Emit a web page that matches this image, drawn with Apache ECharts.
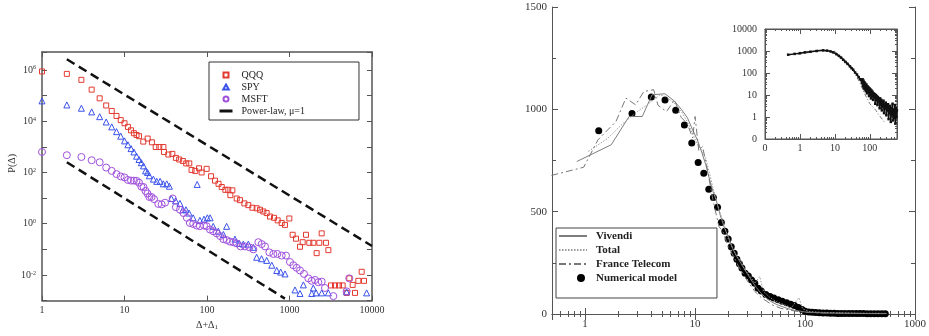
<!DOCTYPE html>
<html>
<head>
<meta charset="utf-8">
<script src="https://cdn.jsdelivr.net/npm/echarts@6/dist/echarts.min.js"></script>
<style>
  html, body { margin: 0; padding: 0; background: #fff; }
  #chart { width: 929px; height: 336px; }
</style>
</head>
<body>
<div id="chart"></div>
<script>
// ---- left panel: P(Δ) against Δ+Δ1, log-log ----
const qqqX = [1,2,3,4,5,6,7,8,9,10,11,12,13,14,15,16.9,19.1,21.5,23.9,26.4,29.6,30.1,34,38,42,46,51,56,61,65,72,80,86,99,112,125,138,151,167,181,192,203,229,251,284,317,355,400,439,482,529,580,649,719,804,882,995,1092,1199,1340,1445,1585,1738,1944,2133,2300,2455,2768,2958,3184,3562,3984,4409,4928,5309,5830,6223,6830,7497,8000];
const qqqP = [8.7e5,7.0e5,4.1e5,1.7e5,7.8e4,4.1e4,2.5e4,1.6e4,1.1e4,8.3e3,6.0e3,4.4e3,3.4e3,2.9e3,2.6e3,1.6e3,2.1e3,1.5e3,980,980,980,630,500,530,370,320,280,225,225,125,115,145,100,138,71,48,36,27,21,21,13,20,9.6,8.3,6.2,5.3,4.2,4.0,3.5,3.0,2.6,1.9,1.7,1.35,1.07,0.9,1.6,0.37,0.26,0.126,0.19,0.37,0.18,0.18,0.071,0.18,0.42,0.18,0.093,0.0039,0.0039,0.0039,0.0039,0.0020,0.0074,0.0041,0.0020,0.0059,0.0133,0.0059];

const spyX = [1,2,3,4,5,6,7,8,9,10,11,12,13,14,15,16,17,18,19,20,22.4,24.6,27,29.5,32.5,35,37,41.7,47,51,55.6,60.6,68,76,82,92,101,109,119,137,158,173,218,246,276,317,364,400,458,529,610,700,781,882,1166,1340,1473,1860,1944,2100,2455,2958,4928,8610];
const spyP = [6.2e4,4.3e4,3.2e4,2.3e4,1.5e4,9.3e3,6.0e3,3.9e3,2.6e3,1.7e3,1.2e3,850,630,430,320,240,180,115,100,74,55,45,45,36,36,29,9.6,7.8,6.2,3.5,3.5,2.6,1.7,34,1.35,1.5,1.7,1.7,0.79,0.51,0.38,0.79,0.25,0.17,0.16,0.16,0.12,0.049,0.043,0.037,0.024,0.015,0.013,0.011,0.0026,0.0019,0.0041,0.0019,0.0031,0.0020,0.0020,0.0020,0.0022,0.0020];

const msftX = [1,2,3,4,5,6,7,8,9,10,11,12,13,14,15,16,17,18,19,20,21.3,22.8,25.7,28.2,31,38.4,42,47,52,57,62,68,75,82,92,99,109,119,131,144,158,173,190,208,229,256,289,326,365,419,460,505,570,637,713,804,907,1014,1112,1220,1340,1499,1692,1857,2037,2236,2455,2690,3400,4928,5300];
const msftP = [630,470,400,300,250,155,115,86,70,64,51,48,48,47,40,28,27,19,15,11,11,9.1,5.9,5.7,6.6,9.6,4.4,3.5,2.6,1.7,1.07,0.98,0.85,0.8,0.85,0.8,0.59,0.51,0.42,0.33,0.25,0.23,0.2,0.19,0.17,0.13,0.13,0.12,0.10,0.19,0.16,0.13,0.076,0.066,0.066,0.057,0.057,0.032,0.024,0.019,0.015,0.011,0.0074,0.0059,0.0064,0.0052,0.0055,0.0031,0.0015,0.0023,0.0074];

// power-law guides (μ=1), end points
const upperLawX = [2, 10000];
const upperLawP = [2.6e6, 0.135];
const lowerLawX = [2, 880];
const lowerLawP = [250, 0.0012];

// ---- right panel: linear y, log x ----
const modelX = [1.33,2.67,4.0,5.33,6.67,8.0,9.33,10.67,12.0,13.33,14.67,16.0,17.33,18.67,20.0,21.33,22.67,24.0,25.33,26.67,28.5,30.5,32.6,34.9,37.4,40,44,48,52,57,62,68,74,80,87,94,100,108,116,125,135,146,158,170,184,198,214,231,250,270,292,315,340,367,396,428,462,499,537];
const modelY = [895,980,1060,1045,996,923,835,740,688,610,569,522,447,404,367,328,297,268,245,225,199,186,166,150,126,112,95,85,78,70,62,55,48,42,32,22,14,10,8,7,6,5,5,4,4,3,3,3,2.5,2.5,2,2,2,1.5,1.5,1,1,1,1];

const vivendiX = [0.84,1.73,2.51,3.31,4.06,5.33,6.5,7.5,8.5,9.5,10.5,11.5,12.5,13.5,14.5,15.5,17,18.5,20,22,24,27,30,33,36,40,45,50,56,63,70,80,90,100,120,150,200,300,400,550];
const vivendiY = [745,827,965,965,1071,1076,1040,1000,960,900,850,790,730,660,600,560,480,420,380,320,280,235,195,160,130,100,75,58,45,35,26,18,14,10,7,5,4,3,2,2];

const totalX = [1.07,1.61,2.2,3.0,3.66,4.8,5.5,6.5,7.5,8.5,9.5,10.5,11.5,12.5,13.5,14.5,15.5,17,18.5,20,22,24,26.6,28,31,35,38.7,42,48,55,65,75,88,95,110,140,200,300,550];
const totalY = [794,859,930,990,1022,1071,1060,1030,990,940,880,830,800,760,690,620,560,490,430,370,320,280,256,220,190,150,183,110,80,60,45,30,80,25,12,8,6,4,3];

const ftX = [0.494,0.97,1.31,1.91,2.35,2.88,3.42,4.2,4.6,5.5,6.5,7.5,8.5,9.5,10,10.8,11.7,13,14.5,16.5,18,20,23,25,28,30,35,40,50,60,80,100,150,250,400,550];
const ftY = [677,717,851,941,1055,1022,1087,1096,1020,989,1045,960,930,860,965,800,818,700,560,427,400,330,270,230,190,160,110,80,45,28,15,8,5,3,2,2];

// ---- inset: log-log ----
const insetModelX = [0.46,0.7,1.0,1.39,2,3,4.6,6,7.5,8.9,11,13,15,17.3,20,23,27,30,33.4,38,43,48,53,58,
  60,62,64,66,68,70,72,74,77,80,83,86,89,92,95,98,101,104,108,112,116,120,124,128,133,138,143,148,153,159,
  165,171,177,184,191,198,205,213,221,229,238,247,256,266,276,286,297,308,320,332,345,358,372,386,400,415,
  431,447,464,482,500,519,538,558,579,595];
const insetModelY = [680,740,800,870,930,1000,1070,1040,960,870,720,600,500,400,320,260,200,165,141,105,85,65,52,50,
  34,52,25,45,20,38,18,33,15,30,12,25,14,22,9,20,11,18,7,16,9,14,6,12,8,11,4,10,6,9,
  3.5,8,5,7,2.5,7,3.5,6,2,5,3,5.5,1.5,4,2.5,4.5,1.2,3.5,2,3.8,0.8,3,1.5,3.2,0.6,2.5,
  1.2,4,0.7,2.2,0.9,3.5,0.5,2.5,1.0,2];
const insetVivX = [0.84,1.73,2.5,4,6,10,15,20,30,40,50,70,90,120,160,220,300,400,550];
const insetVivY = [745,830,965,1070,1040,860,560,360,190,100,60,28,14,9,5,3,2,1.5,1.2];
const insetFtX = [0.49,0.97,1.9,3.4,5.5,10,16,25,35,42,55,70,100,150,193,260];
const insetFtY = [677,717,941,1087,989,965,427,230,120,70,30,12,4,2,1.1,0.6];

const serif = 'Liberation Serif';
const frame = '#555';
const pts = (xs, ys) => xs.map((x, i) => [x, ys[i]]);
const isDecade = v => Math.abs(Math.log10(v) - Math.round(Math.log10(v))) < 1e-6;

// legend glyphs (kept square by the legend)
const iconSquare = 'path://M0,0L10,0L10,10L0,10Z';
const iconTriangle = 'path://M5,0L10,9L0,9Z';
const iconCircle = 'path://M5,0A5,5,0,1,1,5,10A5,5,0,1,1,5,0Z';
const iconDotRight = 'path://M0,5L0.01,5M25,0A5,5,0,1,1,25,10A5,5,0,1,1,25,0Z';

function decadeText(v) {
  return isDecade(v) ? String(Math.round(v)) : '';
}
function evenPower(v) {
  if (!isDecade(v)) return '';
  const e = Math.round(Math.log10(v));
  if (e % 2 !== 0) return '';
  return '{b|10}{s|' + e + '}';
}
function insetText(v) {
  if (!isDecade(v)) return '';
  return v < 1 ? '0' : String(Math.round(v));
}

function logAxis(grid, min, max, pos, label, extra) {
  return Object.assign({
    gridIndex: grid, type: 'log', logBase: 10, min: min, max: max, position: pos,
    axisLine: { show: true, lineStyle: { color: frame, width: 1 } },
    axisTick: { show: true, inside: true, length: 5, lineStyle: { color: frame } },
    axisLabel: label ? Object.assign({ fontFamily: serif, color: '#333', fontSize: 10, showMinLabel: true, showMaxLabel: true }, label) : { show: false },
    splitLine: { show: false }
  }, extra || {});
}

const chart = echarts.init(document.getElementById('chart'));
chart.setOption({
  animation: false,
  backgroundColor: '#fff',
  grid: [
    { left: 42, top: 52, width: 330, height: 253 },
    { left: 552, top: 7, width: 371, height: 307 },
    { left: 765, top: 29, width: 132, height: 110, show: true, borderColor: frame, borderWidth: 1, backgroundColor: '#fff' }
  ],
  xAxis: [
    logAxis(0, 1, 10000, 'bottom', { formatter: decadeText, margin: 5 }, {
      axisLine: { lineStyle: { color: frame, width: 1.5 } },
      name: 'Δ+Δ{sub|1}', nameLocation: 'middle', nameGap: 11,
      nameTextStyle: { fontFamily: serif, fontSize: 10, color: '#333',
        rich: { sub: { fontFamily: serif, fontSize: 7, verticalAlign: 'bottom', padding: [4, 0, 0, 0] } } }
    }),
    logAxis(0, 1, 10000, 'top', null, { axisLine: { lineStyle: { color: frame, width: 1.5 } } }),
    logAxis(1, 0.5, 1000, 'bottom', { formatter: decadeText, fontSize: 11, margin: 5 }, {
      minorTick: { show: true, splitNumber: 9, length: 3, lineStyle: { color: frame } }, axisTick: { show: true, inside: true, length: 6, lineStyle: { color: frame } }
    }),
    logAxis(1, 0.5, 1000, 'top', null, {
      minorTick: { show: true, splitNumber: 9, length: 3, lineStyle: { color: frame } }, axisTick: { show: true, inside: true, length: 6, lineStyle: { color: frame } }
    }),
    logAxis(2, 0.1, 600, 'bottom', { formatter: insetText, margin: 4 }, {
      minorTick: { show: true, splitNumber: 9, length: 2, lineStyle: { color: frame } }
    }),
    logAxis(2, 0.1, 600, 'top', null, {
      minorTick: { show: true, splitNumber: 9, length: 2, lineStyle: { color: frame } }
    })
  ],
  yAxis: [
    logAxis(0, 0.001, 5e6, 'left', {
      formatter: evenPower, margin: 6,
      rich: {
        b: { fontFamily: serif, fontSize: 10, color: '#333', lineHeight: 10, verticalAlign: 'bottom' },
        s: { fontFamily: serif, fontSize: 6, color: '#333', lineHeight: 8, verticalAlign: 'top' }
      }
    }, {
      axisLine: { lineStyle: { color: frame, width: 1.5 } },
      name: 'P(Δ)', nameLocation: 'middle', nameGap: 23, nameRotate: 90,
      nameTextStyle: { fontFamily: serif, fontSize: 10, color: '#333', padding: [0, 0, 0, 26] }
    }),
    logAxis(0, 0.001, 5e6, 'right', null, { axisLine: { lineStyle: { color: frame, width: 1.5 } } }),
    {
      gridIndex: 1, type: 'value', min: 0, max: 1500, interval: 500, position: 'left',
      axisLine: { show: true, lineStyle: { color: frame } },
      axisTick: { show: true, inside: true, length: 6, lineStyle: { color: frame } },
      minorTick: { show: true, splitNumber: 2, length: 4, lineStyle: { color: frame } },
      axisLabel: { fontFamily: serif, fontSize: 11, color: '#333', margin: 5, formatter: v => String(v) },
      splitLine: { show: false }
    },
    {
      gridIndex: 1, type: 'value', min: 0, max: 1500, interval: 500, position: 'right',
      axisLine: { show: true, lineStyle: { color: frame } },
      axisTick: { show: true, inside: true, length: 6, lineStyle: { color: frame } },
      minorTick: { show: true, splitNumber: 2, length: 4, lineStyle: { color: frame } },
      axisLabel: { show: false },
      splitLine: { show: false }
    },
    logAxis(2, 0.1, 10000, 'left', { formatter: insetText, margin: 8 }, {
      minorTick: { show: true, splitNumber: 9, length: 2, lineStyle: { color: frame } }
    }),
    logAxis(2, 0.1, 10000, 'right', null, {
      minorTick: { show: true, splitNumber: 9, length: 2, lineStyle: { color: frame } }
    })
  ],
  legend: [
    {
      data: [
        { name: 'QQQ', icon: iconSquare },
        { name: 'SPY', icon: iconTriangle },
        { name: 'MSFT', icon: iconCircle },
        { name: 'Power-law, μ=1', lineStyle: { type: 'solid', width: 3 }, itemStyle: { opacity: 0 } }
      ],
      left: 209, top: 62, orient: 'vertical', selectedMode: false, symbolKeepAspect: true,
      itemWidth: 13, itemHeight: 5, itemGap: 0, padding: [7, 54, 3, 9],
      borderColor: '#333', borderWidth: 1,
      textStyle: { fontFamily: serif, fontSize: 10, color: '#222', lineHeight: 12, padding: [0, 0, 0, 4] }
    },
    {
      data: [
        { name: 'Vivendi', itemStyle: { opacity: 0 } },
        { name: 'Total', itemStyle: { opacity: 0 } },
        { name: 'France Telecom', itemStyle: { opacity: 0 } },
        { name: 'Numerical model', icon: iconDotRight }
      ],
      left: 556, top: 228, orient: 'vertical', selectedMode: false, symbolKeepAspect: true,
      itemWidth: 28, itemHeight: 8, itemGap: 0, padding: [1, 40, 13, 2],
      borderColor: '#444', borderWidth: 1,
      textStyle: { fontFamily: serif, fontSize: 11, fontWeight: 'bold', color: '#222', lineHeight: 14, padding: [0, 0, 0, 4] }
    }
  ],
  series: [
    { name: 'QQQ', type: 'scatter', xAxisIndex: 0, yAxisIndex: 0, clip: false, data: pts(qqqX, qqqP),
      symbol: 'rect', symbolSize: 5, itemStyle: { color: 'rgba(255,255,255,0)', borderColor: '#e23a30', borderWidth: 1, opacity: 1 } },
    { name: 'SPY', type: 'scatter', xAxisIndex: 0, yAxisIndex: 0, clip: false, data: pts(spyX, spyP),
      symbol: 'triangle', symbolSize: 6, itemStyle: { color: 'rgba(255,255,255,0)', borderColor: '#3a52ea', borderWidth: 1, opacity: 1 } },
    { name: 'MSFT', type: 'scatter', xAxisIndex: 0, yAxisIndex: 0, clip: false, data: pts(msftX, msftP),
      symbol: 'circle', symbolSize: 7, itemStyle: { color: 'rgba(255,255,255,0)', borderColor: '#a151dc', borderWidth: 1, opacity: 1 } },
    { name: 'Power-law, μ=1', type: 'line', xAxisIndex: 0, yAxisIndex: 0, data: pts(upperLawX, upperLawP),
      symbol: 'none', lineStyle: { color: '#111', width: 2.5, type: [9, 5] }, itemStyle: { color: '#111' } },
    { name: 'Power-law, μ=1', type: 'line', xAxisIndex: 0, yAxisIndex: 0, data: pts(lowerLawX, lowerLawP),
      symbol: 'none', lineStyle: { color: '#111', width: 2.5, type: [9, 5] }, itemStyle: { color: '#111' } },

    { name: 'Vivendi', type: 'line', xAxisIndex: 2, yAxisIndex: 2, data: pts(vivendiX, vivendiY),
      symbol: 'none', lineStyle: { color: '#7d7d7d', width: 1 }, itemStyle: { color: '#7d7d7d' } },
    { name: 'Total', type: 'line', xAxisIndex: 2, yAxisIndex: 2, data: pts(totalX, totalY),
      symbol: 'none', lineStyle: { color: '#9a9a9a', width: 1, type: [1.5, 1.5] }, itemStyle: { color: '#9a9a9a' } },
    { name: 'France Telecom', type: 'line', xAxisIndex: 2, yAxisIndex: 2, data: pts(ftX, ftY),
      symbol: 'none', lineStyle: { color: '#777', width: 1, type: [7, 3, 2, 3] }, itemStyle: { color: '#777' } },
    { name: 'Numerical model', type: 'scatter', xAxisIndex: 2, yAxisIndex: 2, clip: false, data: pts(modelX, modelY),
      symbol: 'circle', symbolSize: 7, itemStyle: { color: '#000', opacity: 1 } },

    { name: 'inset Vivendi', type: 'line', xAxisIndex: 4, yAxisIndex: 4, data: pts(insetVivX, insetVivY),
      symbol: 'none', lineStyle: { color: '#8a8a8a', width: 1 } },
    { name: 'inset France Telecom', type: 'line', xAxisIndex: 4, yAxisIndex: 4, data: pts(insetFtX, insetFtY),
      symbol: 'none', lineStyle: { color: '#777', width: 1, type: [4, 2, 1, 2] } },
    { name: 'inset model', type: 'line', xAxisIndex: 4, yAxisIndex: 4, data: pts(insetModelX, insetModelY),
      symbol: 'rect', symbolSize: 2.5, showAllSymbol: true, lineStyle: { color: '#111', width: 1.5 }, itemStyle: { color: '#111' } }
  ]
});
</script>
</body>
</html>
